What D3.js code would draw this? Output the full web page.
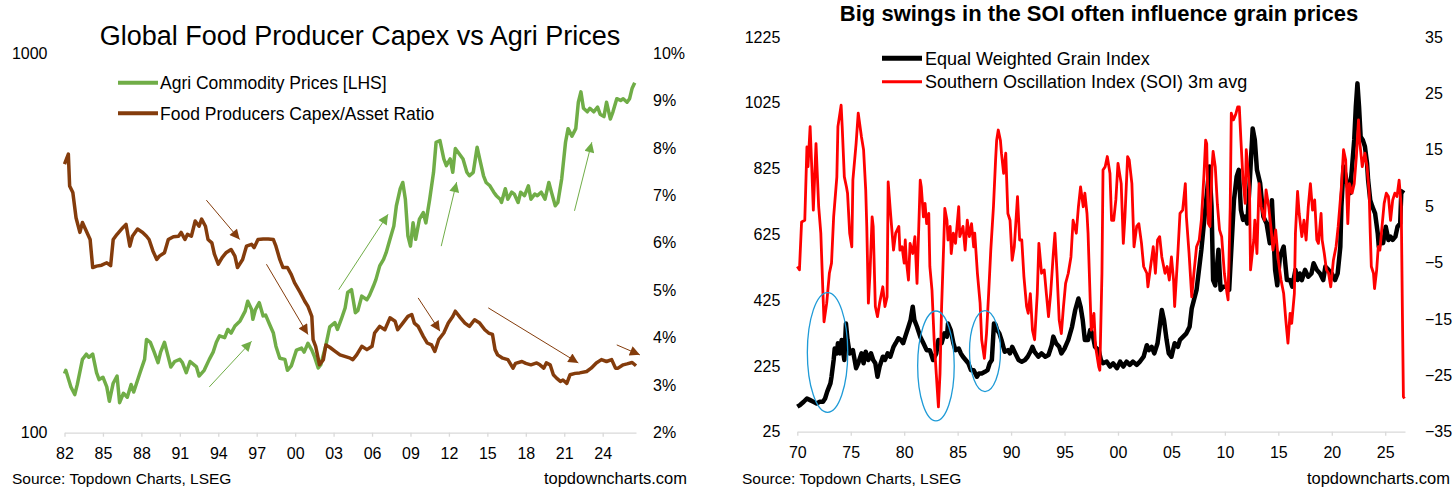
<!DOCTYPE html>
<html>
<head>
<meta charset="utf-8">
<script src="https://cdn.jsdelivr.net/npm/d3@7"></script>
<style>
  body { margin: 0; background: #fff; }
  text { font-family: Arial, "Liberation Sans", sans-serif; fill: #000; }
</style>
</head>
<body>
<svg id="chart" width="1456" height="490"></svg>
<script>
// ---- left chart data ----
var agriYears = [1982.0,1982.1,1982.5,1982.8,1983.0,1983.4,1983.7,1983.9,1984.2,1984.5,1984.7,1985.0,1985.3,1985.5,1985.8,1986.1,1986.3,1986.6,1986.9,1987.2,1987.4,1987.9,1988.25,1988.4,1988.7,1989.0,1989.3,1989.5,1989.8,1990.0,1990.3,1990.6,1991.0,1991.2,1991.5,1991.8,1992.3,1992.5,1992.9,1993.3,1993.6,1993.85,1994.1,1994.5,1994.75,1995.0,1995.3,1995.7,1996.1,1996.3,1996.6,1996.7,1996.9,1997.2,1997.5,1997.7,1998.0,1998.3,1998.5,1998.8,1999.2,1999.4,1999.7,2000.1,2000.5,2000.7,2001.0,2001.3,2001.5,2001.8,2002.0,2002.4,2002.7,2003.1,2003.3,2003.6,2003.9,2004.1,2004.4,2004.7,2004.9,2005.2,2005.6,2005.8,2006.1,2006.3,2006.6,2006.9,2007.1,2007.4,2007.7,2007.9,2008.2,2008.4,2008.6,2008.8,2009.0,2009.2,2009.4,2009.7,2010.0,2010.2,2010.5,2010.8,2011.0,2011.3,2011.6,2011.8,2012.1,2012.3,2012.5,2012.9,2013.1,2013.4,2013.6,2013.9,2014.2,2014.4,2014.7,2014.9,2015.2,2015.5,2015.7,2016.0,2016.1,2016.4,2016.6,2016.9,2017.1,2017.4,2017.6,2017.9,2018.2,2018.4,2018.7,2018.9,2019.2,2019.5,2019.8,2020.0,2020.3,2020.5,2020.8,2021.1,2021.3,2021.6,2021.9,2022.1,2022.3,2022.5,2022.8,2023.0,2023.3,2023.6,2023.8,2024.1,2024.3,2024.6,2024.8,2025.1,2025.4,2025.6,2025.9,2026.1,2026.3,2026.5];
var agriPrices = [143,146,132,126,134,156,161,158,161,144,138,140,132,121,135,141,120,127,124,134,128,144,156,176,173,163,153,163,173,163,149,154,156,153,144,154,149,141,146,156,163,173,180,178,187,183,191,197,209,222,211,199,211,220,203,204,193,183,169,157,156,146,150,165,167,163,172,165,159,148,151,170,190,195,187,199,213,234,238,207,210,229,224,230,243,253,275,286,298,323,350,396,439,456,412,330,310,357,323,365,380,357,412,485,582,588,526,505,526,485,560,537,526,485,475,485,565,526,475,456,447,430,421,412,404,439,412,430,425,404,430,421,447,412,425,421,430,412,456,430,396,404,466,582,632,604,632,742,790,715,700,715,700,720,690,680,742,670,700,758,750,758,742,758,808,835];

var capexYears = [1982.0,1982.3,1982.4,1982.65,1982.9,1983.2,1983.4,1983.7,1984.0,1984.2,1984.5,1984.9,1985.3,1985.6,1985.8,1986.1,1986.55,1986.8,1987.1,1987.3,1987.7,1988.1,1988.4,1988.6,1988.9,1989.2,1989.4,1989.8,1990.1,1990.5,1990.9,1991.1,1991.4,1991.6,1991.9,1992.2,1992.5,1992.7,1993.0,1993.2,1993.5,1993.7,1994.0,1994.3,1994.6,1995.0,1995.3,1995.5,1995.9,1996.2,1996.6,1996.8,1997.1,1997.5,1997.9,1998.3,1998.5,1998.8,1999.05,1999.4,1999.7,1999.95,2000.4,2000.75,2001.0,2001.3,2001.4,2001.6,2001.9,2002.2,2002.4,2002.7,2003.1,2003.5,2004.3,2004.5,2004.8,2005.2,2005.6,2006.0,2006.2,2006.6,2007.0,2007.4,2007.8,2008.0,2008.4,2008.8,2009.1,2009.3,2009.6,2010.0,2010.3,2010.65,2010.9,2011.2,2011.6,2011.95,2012.3,2012.5,2012.9,2013.25,2013.6,2014.0,2014.4,2014.8,2015.1,2015.4,2015.6,2015.8,2016.2,2016.6,2017.0,2017.2,2017.7,2018.0,2018.4,2018.85,2019.1,2019.4,2019.6,2019.9,2020.15,2020.4,2020.7,2020.9,2021.2,2021.45,2021.85,2022.2,2022.75,2023.1,2023.5,2023.9,2024.3,2024.7,2025.0,2025.2,2025.6,2025.9,2026.3,2026.6];
var capexRatio = [7.66,7.87,7.20,7.06,6.53,6.22,6.43,6.25,6.07,5.48,5.51,5.53,5.58,5.52,6.07,6.18,6.32,6.39,5.93,6.14,6.29,6.22,6.14,6.07,5.83,5.65,5.72,5.79,6.07,6.13,6.14,6.22,6.07,6.18,6.14,6.46,6.35,6.50,6.35,6.07,6.00,5.76,5.55,5.69,5.79,5.86,5.72,5.48,5.65,5.93,5.97,5.90,6.07,6.08,6.08,6.07,5.93,5.65,5.48,5.48,5.33,5.16,4.95,4.77,4.66,4.45,3.96,3.82,3.43,3.54,3.85,3.80,3.72,3.64,3.57,3.54,3.64,3.82,3.75,3.82,4.10,4.24,4.17,4.42,4.35,4.17,4.31,4.45,4.49,4.31,4.24,4.03,3.89,3.85,3.71,3.96,4.10,4.31,4.45,4.56,4.42,4.31,4.24,4.38,4.31,4.17,4.10,4.07,3.75,3.64,3.57,3.54,3.36,3.46,3.50,3.46,3.43,3.47,3.43,3.36,3.47,3.43,3.22,3.15,3.08,3.11,3.04,3.22,3.25,3.26,3.29,3.36,3.47,3.54,3.50,3.54,3.36,3.36,3.43,3.45,3.48,3.41];

// arrows: [fromYear, fromValue, toYear, toValue]
var capexArrows = [[1993.07,6.90,1995.67,6.07],[1997.76,5.55,2001.0,4.07],[2009.6,4.84,2011.3,4.14],[2015.07,4.63,2022.1,3.47],[2025.1,3.85,2026.9,3.64]];
var agriArrows = [[1993.3,132,1996.6,174],[2003.4,238,2007.25,376],[2011.4,310,2012.6,457],[2021.8,384,2023.15,582]];

var leftXTicks = [1982,1985,1988,1991,1994,1997,2000,2003,2006,2009,2012,2015,2018,2021,2024];
var leftXLabels = ["82","85","88","91","94","97","00","03","06","09","12","15","18","21","24"];
var agriTicks = [100, 1000];
var capexTicks = [2,3,4,5,6,7,8,9,10];

// ---- right chart data ----
var grainYears = [1970.0,1970.25,1970.6,1970.9,1971.2,1971.5,1971.8,1972.1,1972.4,1972.6,1972.8,1973.1,1973.2,1973.4,1973.5,1973.7,1973.8,1974.0,1974.15,1974.4,1974.55,1974.7,1974.9,1975.2,1975.5,1975.7,1976.0,1976.2,1976.4,1976.65,1976.9,1977.1,1977.3,1977.5,1977.7,1978.0,1978.2,1978.45,1978.7,1979.0,1979.2,1979.45,1979.7,1979.9,1980.1,1980.4,1980.6,1980.8,1980.95,1981.2,1981.5,1981.8,1982.1,1982.4,1982.7,1983.0,1983.2,1983.5,1983.75,1984.0,1984.1,1984.35,1984.6,1984.8,1985.1,1985.3,1985.5,1985.75,1986.0,1986.25,1986.5,1986.8,1987.0,1987.25,1987.55,1987.8,1988.0,1988.2,1988.4,1988.55,1988.7,1988.9,1989.1,1989.4,1989.7,1989.9,1990.1,1990.4,1990.7,1991.0,1991.3,1991.55,1991.8,1992.0,1992.2,1992.55,1992.85,1993.2,1993.5,1993.8,1993.95,1994.2,1994.5,1994.7,1995.0,1995.35,1995.7,1996.0,1996.3,1996.5,1996.7,1996.9,1997.2,1997.4,1997.6,1997.85,1998.2,1998.4,1998.6,1998.95,1999.25,1999.55,1999.9,2000.2,2000.5,2000.8,2001.1,2001.4,2001.75,2002.05,2002.4,2002.7,2002.9,2003.15,2003.4,2003.7,2003.9,2004.1,2004.3,2004.55,2004.75,2005.0,2005.3,2005.6,2005.8,2006.1,2006.4,2006.7,2006.9,2007.35,2007.8,2008.1,2008.35,2008.55,2008.75,2008.9,2009.1,2009.4,2009.6,2009.85,2010.2,2010.4,2010.6,2010.85,2011.1,2011.3,2011.5,2011.7,2011.9,2012.1,2012.35,2012.6,2012.8,2013.0,2013.3,2013.6,2013.9,2014.2,2014.4,2014.7,2014.9,2015.15,2015.5,2015.8,2016.1,2016.3,2016.6,2016.8,2017.0,2017.2,2017.5,2017.8,2018.1,2018.3,2018.6,2018.9,2019.2,2019.4,2019.7,2020.0,2020.3,2020.55,2020.8,2020.9,2021.1,2021.25,2021.5,2021.7,2021.9,2022.1,2022.25,2022.4,2022.55,2022.7,2022.9,2023.1,2023.3,2023.4,2023.6,2023.8,2024.05,2024.3,2024.4,2024.6,2024.8,2025.05,2025.3,2025.5,2025.7,2025.95,2026.15,2026.4,2026.5,2026.7];
var grainIndex = [101,106,116,126,121,116,111,116,116,126,147,172,192,243,278,263,294,263,304,243,354,304,263,273,218,233,263,233,268,243,263,243,233,192,223,253,243,263,253,283,294,309,304,294,314,344,365,405,365,344,314,294,273,273,243,263,304,294,324,314,354,334,294,273,278,263,253,243,233,212,212,192,202,202,207,212,233,243,354,350,334,324,304,268,273,263,283,263,243,238,243,253,268,283,268,253,263,253,258,288,314,294,283,263,278,304,344,395,430,405,365,304,304,334,324,283,273,243,233,238,223,233,218,238,223,238,228,238,228,238,253,288,273,283,263,294,344,395,365,304,263,253,294,283,304,314,324,344,400,456,578,679,760,831,710,486,470,578,456,466,466,456,578,729,800,821,699,669,679,658,800,947,912,821,780,679,658,598,729,517,470,557,588,486,486,466,517,486,506,486,517,496,506,537,517,506,486,527,517,506,486,506,587,709,831,810,770,750,831,912,1013,1084,1013,922,912,892,841,790,729,709,689,628,587,608,598,648,608,618,608,618,648,658,750,760];

var soiYears = [1970.0,1970.2,1970.4,1970.7,1970.9,1971.0,1971.2,1971.35,1971.5,1971.75,1972.0,1972.2,1972.4,1972.5,1972.75,1973.0,1973.2,1973.4,1973.7,1973.8,1974.1,1974.2,1974.4,1974.6,1974.7,1974.9,1975.1,1975.2,1975.5,1975.7,1976.0,1976.2,1976.4,1976.5,1976.65,1976.8,1977.0,1977.1,1977.3,1977.5,1977.7,1978.0,1978.2,1978.4,1978.5,1978.7,1978.8,1979.0,1979.2,1979.5,1979.6,1979.8,1980.0,1980.1,1980.2,1980.4,1980.55,1980.8,1981.0,1981.2,1981.5,1981.6,1981.8,1981.95,1982.1,1982.3,1982.4,1982.6,1982.8,1983.0,1983.2,1983.35,1983.5,1983.7,1983.8,1984.0,1984.1,1984.3,1984.4,1984.6,1984.8,1985.1,1985.2,1985.5,1985.7,1985.9,1986.1,1986.3,1986.5,1986.6,1986.85,1987.1,1987.25,1987.5,1987.7,1987.9,1988.1,1988.35,1988.55,1988.65,1988.8,1989.0,1989.1,1989.3,1989.5,1989.7,1989.9,1990.1,1990.3,1990.6,1990.8,1991.0,1991.2,1991.45,1991.6,1991.8,1992.0,1992.2,1992.45,1992.6,1992.85,1993.1,1993.3,1993.5,1993.7,1993.95,1994.1,1994.3,1994.5,1994.7,1994.9,1995.1,1995.35,1995.6,1995.8,1996.1,1996.3,1996.5,1996.75,1996.9,1997.1,1997.2,1997.4,1997.5,1997.75,1997.9,1998.2,1998.3,1998.5,1998.6,1998.8,1999.0,1999.25,1999.4,1999.6,1999.8,2000.0,2000.3,2000.5,2000.65,2000.9,2001.05,2001.3,2001.5,2001.75,2001.95,2002.2,2002.4,2002.7,2002.8,2003.05,2003.3,2003.5,2003.7,2003.9,2004.1,2004.4,2004.6,2004.8,2005.0,2005.2,2005.3,2005.6,2005.8,2006.05,2006.3,2006.4,2006.65,2006.9,2007.1,2007.35,2007.6,2007.8,2008.05,2008.2,2008.3,2008.45,2008.6,2008.8,2008.9,2009.1,2009.3,2009.5,2009.7,2009.95,2010.2,2010.3,2010.5,2010.6,2010.8,2011.0,2011.2,2011.35,2011.5,2011.7,2011.9,2012.0,2012.3,2012.4,2012.7,2012.8,2013.0,2013.2,2013.4,2013.7,2013.85,2014.1,2014.3,2014.5,2014.75,2015.0,2015.25,2015.5,2015.7,2015.9,2016.1,2016.25,2016.5,2016.6,2016.8,2016.95,2017.2,2017.4,2017.6,2017.8,2018.0,2018.2,2018.4,2018.6,2018.75,2019.0,2019.1,2019.3,2019.5,2019.7,2019.9,2020.15,2020.4,2020.6,2020.9,2021.1,2021.3,2021.5,2021.65,2021.9,2022.1,2022.3,2022.5,2022.6,2022.85,2023.1,2023.3,2023.5,2023.6,2023.7,2023.9,2024.0,2024.2,2024.35,2024.5,2024.7,2024.9,2025.1,2025.3,2025.5,2025.7,2025.9,2026.1,2026.3,2026.5,2026.6,2026.7,2026.8];
var soiValues = [-5.7,-6.3,2.2,2.5,15.5,12.0,19.1,12.0,4.3,16.1,4.9,0.2,-10.5,-15.5,-12.2,-6.9,-5.1,3.1,10.2,19.1,22.9,19.1,10.2,8.4,7.3,0.2,-2.2,9.6,16.1,21.5,17.3,15.0,7.9,1.4,-12.2,-6.9,3.1,1.4,-12.8,-14.6,-12.2,-9.3,-12.8,-11.1,9.3,4.3,1.9,-2.8,0.2,1.4,-2.8,-2.2,-5.1,-1.0,-4.6,-8.1,-1.6,-3.4,-0.4,-8.7,9.6,8.4,3.1,5.5,1.9,3.7,-5.7,-9.9,-18.7,-24.7,-30.6,-24.7,-12.8,-1.6,4.6,2.5,-1.0,1.4,-3.4,0.2,-1.6,4.9,-0.4,1.4,-2.8,2.5,-0.4,1.9,-2.2,0.2,-6.9,-12.2,-18.7,-22.0,-17.6,-10.5,-2.8,4.9,13.2,16.7,18.5,16.7,14.4,10.8,14.4,3.7,2.5,-4.6,-2.2,6.7,-1.0,-1.0,-7.5,-12.8,-14.0,-10.5,-17.0,-18.7,-10.5,-1.6,-6.9,-6.3,-10.5,-14.6,-10.5,-3.4,0.2,-6.9,-15.2,-17.6,-12.8,-8.7,-6.9,-4.0,2.5,0.2,4.9,8.4,4.9,7.3,3.7,0.2,-11.6,-17.0,-14.0,-19.9,-23.5,-24.1,-6.9,11.4,12.0,13.8,10.8,2.5,2.5,6.1,12.6,9.0,-1.6,3.1,13.8,13.2,9.0,-2.2,1.4,1.9,-1.6,-5.7,-6.9,-9.3,-5.7,-2.2,-6.9,-1.0,-0.4,-4.0,-6.9,-5.7,-8.1,-4.0,-8.1,-12.8,-3.4,3.7,4.3,9.0,3.1,-3.4,-11.1,-6.9,-2.2,-1.0,2.5,10.8,16.7,16.1,1.9,1.4,12.0,14.7,12.0,5.3,0.8,-0.4,-6.9,-10.5,-11.6,4.9,21.5,20.3,21.2,22.6,22.6,16.7,9.6,5.5,15.0,8.4,-6.3,-1.0,2.5,-3.4,9.0,4.9,2.5,7.9,4.9,1.4,-2.8,0.8,-4.6,-8.1,-10.5,-15.2,-19.3,-14.0,-15.8,-10.5,0.2,7.6,3.7,-0.4,2.5,-1.0,4.9,9.0,4.3,6.1,-1.0,-1.6,3.7,-1.0,-3.4,-6.3,-6.9,-9.3,-4.6,-2.2,1.4,8.4,15.0,13.2,1.9,9.0,7.3,9.0,13.8,20.3,16.7,12.0,14.4,12.0,7.3,0.2,-5.7,-6.9,-9.6,-6.3,-2.2,-2.8,1.4,5.5,7.3,6.7,2.5,6.1,7.3,6.7,9.6,4.9,-12.8,-28.8,-29.1];

// circles: [centreYear, centreGrain, halfWidthYears, halfHeightGrain]
var soiCircles = [[1972.83,266,1.89,182],[1982.97,225,1.71,167],[1987.56,270,1.45,123]];

var rightXTicks = [1970,1975,1980,1985,1990,1995,2000,2005,2010,2015,2020,2025];
var rightXLabels = ["70","75","80","85","90","95","00","05","10","15","20","25"];
var grainTicks = [25,225,425,625,825,1025,1225];
var soiTicks = [-35,-25,-15,-5,5,15,25,35];

var green = "#70ad47", brown = "#843c0c", axisGrey = "#d9d9d9";
var tickFont = 16;

var svg = d3.select("#chart");

// arrow markers
var defs = svg.append("defs");
[["arrBrown", brown], ["arrGreen", green]].forEach(function(m) {
  defs.append("marker")
    .attr("id", m[0])
    .attr("viewBox", "0 0 10 10")
    .attr("refX", 10).attr("refY", 5)
    .attr("markerUnits", "userSpaceOnUse")
    .attr("markerWidth", 12).attr("markerHeight", 10)
    .attr("orient", "auto")
    .append("path").attr("d", "M0,0L10,5L0,10z").attr("fill", m[1]);
});

function xAxis(g, scale, ticks, labels) {
  g.call(d3.axisBottom(scale).tickValues(ticks)
      .tickFormat(function(d, i) { return labels[i]; })
      .tickSize(4).tickSizeOuter(0).tickPadding(11));
  g.selectAll("path,line").attr("stroke", axisGrey).attr("stroke-width", 1.3);
  g.selectAll("text").attr("font-size", tickFont).attr("font-family", "Arial, Liberation Sans, sans-serif").attr("fill", "#000");
}
function yAxis(g, axis) {
  g.call(axis.tickSize(0));
  g.select(".domain").remove();
  g.selectAll("text").attr("font-size", tickFont).attr("font-family", "Arial, Liberation Sans, sans-serif").attr("fill", "#000");
}

// ======== LEFT CHART ========
var xL = d3.scaleLinear().domain([1982, 2026.6]).range([64.5, 636]);
var yAgri = d3.scaleLog().domain([100, 1000]).range([432.7, 53]);
var yCapex = d3.scaleLinear().domain([2, 10]).range([432.7, 53]);

svg.append("text").attr("x", 360).attr("y", 45).attr("text-anchor", "middle")
  .attr("font-size", 27).text("Global Food Producer Capex vs Agri Prices");

yAxis(svg.append("g").attr("transform", "translate(64.5,0)"),
  d3.axisLeft(yAgri).tickValues(agriTicks).tickFormat(d3.format("d")).tickPadding(17));
yAxis(svg.append("g").attr("transform", "translate(636,0)"),
  d3.axisRight(yCapex).tickValues(capexTicks).tickFormat(function(d) { return d + "%"; }).tickPadding(17));
xAxis(svg.append("g").attr("transform", "translate(0,432.7)"), xL, leftXTicks, leftXLabels);

var agriLine = d3.line().x(function(d) { return xL(d[0]); }).y(function(d) { return yAgri(d[1]); });
var capexLine = d3.line().x(function(d) { return xL(d[0]); }).y(function(d) { return yCapex(d[1]); });

svg.append("path").datum(d3.zip(agriYears, agriPrices))
  .attr("d", agriLine).attr("fill", "none").attr("stroke", green)
  .attr("stroke-width", 3.5).attr("stroke-linejoin", "round");
svg.append("path").datum(d3.zip(capexYears, capexRatio))
  .attr("d", capexLine).attr("fill", "none").attr("stroke", brown)
  .attr("stroke-width", 3.5).attr("stroke-linejoin", "round");

svg.selectAll(".capexArrow").data(capexArrows).enter().append("line")
  .attr("class", "capexArrow")
  .attr("x1", function(d) { return xL(d[0]); }).attr("y1", function(d) { return yCapex(d[1]); })
  .attr("x2", function(d) { return xL(d[2]); }).attr("y2", function(d) { return yCapex(d[3]); })
  .attr("stroke", brown).attr("stroke-width", 1).attr("marker-end", "url(#arrBrown)");
svg.selectAll(".agriArrow").data(agriArrows).enter().append("line")
  .attr("class", "agriArrow")
  .attr("x1", function(d) { return xL(d[0]); }).attr("y1", function(d) { return yAgri(d[1]); })
  .attr("x2", function(d) { return xL(d[2]); }).attr("y2", function(d) { return yAgri(d[3]); })
  .attr("stroke", green).attr("stroke-width", 1).attr("marker-end", "url(#arrGreen)");

// legend
var legL = [["Agri Commodity Prices [LHS]", green, 82.7], ["Food Producers Capex/Asset Ratio", brown, 113.3]];
legL.forEach(function(l) {
  svg.append("line").attr("x1", 118).attr("x2", 158).attr("y1", l[2]).attr("y2", l[2])
    .attr("stroke", l[1]).attr("stroke-width", 4);
  svg.append("text").attr("x", 160).attr("y", l[2] + 6.5).attr("font-size", 17.5).text(l[0]);
});

svg.append("text").attr("x", 12).attr("y", 484).attr("font-size", 15.5).text("Source: Topdown Charts, LSEG");
svg.append("text").attr("x", 687).attr("y", 484).attr("text-anchor", "end").attr("font-size", 16.5).text("topdowncharts.com");

// ======== RIGHT CHART ========
var xR = d3.scaleLinear().domain([1970, 2026.85]).range([797.3, 1405]);
var yGrain = d3.scaleLinear().domain([25, 1225]).range([431.7, 37]);
var ySoi = d3.scaleLinear().domain([-35, 35]).range([431.7, 37]);

svg.append("text").attr("x", 1099).attr("y", 21).attr("text-anchor", "middle")
  .attr("font-size", 22).attr("font-weight", "bold").text("Big swings in the SOI often influence grain prices");

yAxis(svg.append("g").attr("transform", "translate(797.3,0)"),
  d3.axisLeft(yGrain).tickValues(grainTicks).tickFormat(d3.format("d")).tickPadding(17));
yAxis(svg.append("g").attr("transform", "translate(1405,0)"),
  d3.axisRight(ySoi).tickValues(soiTicks).tickFormat(d3.format("d")).tickPadding(20));
xAxis(svg.append("g").attr("transform", "translate(0,431.7)"), xR, rightXTicks, rightXLabels);

var grainLine = d3.line().x(function(d) { return xR(d[0]); }).y(function(d) { return yGrain(d[1]); });
var soiLine = d3.line().x(function(d) { return xR(d[0]); }).y(function(d) { return ySoi(d[1]); });

svg.append("path").datum(d3.zip(grainYears, grainIndex))
  .attr("d", grainLine).attr("fill", "none").attr("stroke", "#000")
  .attr("stroke-width", 4.5).attr("stroke-linejoin", "round");
svg.append("path").datum(d3.zip(soiYears, soiValues))
  .attr("d", soiLine).attr("fill", "none").attr("stroke", "#ff0000")
  .attr("stroke-width", 2.8).attr("stroke-linejoin", "round");

svg.selectAll(".soiCircle").data(soiCircles).enter().append("ellipse")
  .attr("class", "soiCircle")
  .attr("cx", function(d) { return xR(d[0]); })
  .attr("cy", function(d) { return yGrain(d[1]); })
  .attr("rx", function(d) { return xR(d[0] + d[2]) - xR(d[0]); })
  .attr("ry", function(d) { return yGrain(d[1] - d[3]) - yGrain(d[1]); })
  .attr("fill", "none").attr("stroke", "#1f9bd7").attr("stroke-width", 1.3);

var legR = [["Equal Weighted Grain Index", "#000", 58.3, 5], ["Southern Oscillation Index (SOI) 3m avg", "#ff0000", 81.7, 3]];
legR.forEach(function(l) {
  svg.append("line").attr("x1", 882).attr("x2", 922).attr("y1", l[2]).attr("y2", l[2])
    .attr("stroke", l[1]).attr("stroke-width", l[3]);
  svg.append("text").attr("x", 925).attr("y", l[2] + 6.5).attr("font-size", 18).text(l[0]);
});

svg.append("text").attr("x", 742).attr("y", 484).attr("font-size", 15.5).text("Source: Topdown Charts, LSEG");
svg.append("text").attr("x", 1450).attr("y", 484).attr("text-anchor", "end").attr("font-size", 16.5).text("topdowncharts.com");
</script>
</body>
</html>
